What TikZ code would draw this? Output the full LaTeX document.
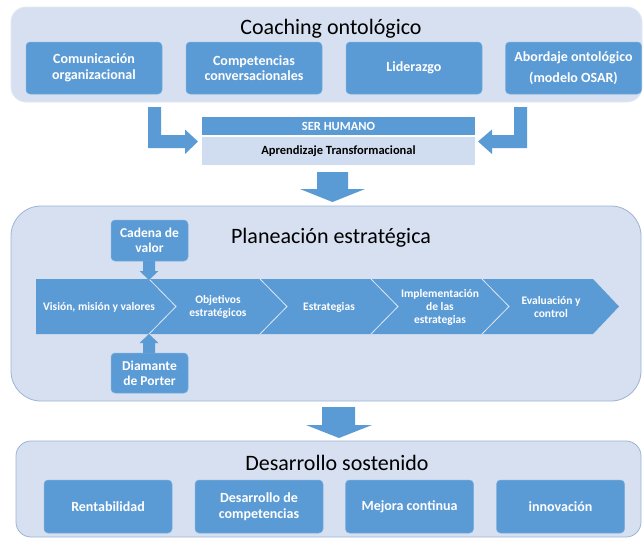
\documentclass[tikz,border=0pt]{standalone}
\usepackage{fontspec}
\setmainfont{Carlito}
\definecolor{boxblue}{HTML}{5B9BD5}
\definecolor{panelfill}{HTML}{D6E0F0}
\definecolor{panelline}{HTML}{9DB4D6}
\definecolor{lightbox}{HTML}{D0DCEF}
\definecolor{sepline}{HTML}{DCE6F4}
\begin{document}
\begin{tikzpicture}[x=1pt,y=-1pt,
  panel/.style={fill=panelfill, draw=panelline, line width=0.8pt, inner sep=0pt},
  bluebox/.style={fill=boxblue, draw=boxblue!80!white, line width=0.5pt, rounded corners=4pt, text=white,
    font=\fontsize{14}{15.5}\selectfont\bfseries, align=center, inner sep=2pt},
  paneltitle/.style={font=\fontsize{22}{24}\selectfont, text=black, inner sep=0pt},
  chevtext/.style={text=white, font=\fontsize{11.5}{13}\selectfont\bfseries, align=center, inner sep=0pt},
  blockarrow/.style={fill=boxblue, draw=none},
  sepstyle/.style={draw=sepline, line width=0.8pt},
]
\useasboundingbox (0,0) rectangle (643,539);
\fill[white] (0,0) rectangle (643,539);

% ---------- Coaching ontologico ----------
\node[panel, draw=panelfill!70!white, rounded corners=15pt, minimum width=631pt, minimum height=95pt] (coach) at (326.5,54.5) {};
\node[paneltitle] (coachT) at (331,29) {Coaching ontológico};
\node[bluebox, minimum width=136pt, minimum height=52pt] (b1) at (94,68) {Comunicación\\organizacional};
\node[bluebox, minimum width=136pt, minimum height=52pt] (b2) at (254,68) {Competencias\\conversacionales};
\node[bluebox, minimum width=136pt, minimum height=52pt] (b3) at (414,68) {Liderazgo};
\node[bluebox, minimum width=136pt, minimum height=52pt] (b4) at (573.5,68) {Abordaje ontológico\\[5pt](modelo OSAR)};

% ---------- Ser humano ----------
\node[fill=boxblue, minimum width=273pt, minimum height=18pt, inner sep=0pt, text=white,
  font=\fontsize{12.5}{14}\selectfont\bfseries] (ser) at (338.5,126) {SER HUMANO};
\node[fill=lightbox, minimum width=273pt, minimum height=28pt, inner sep=0pt, text=black,
  font=\fontsize{12.5}{14}\selectfont\bfseries] (apr) at (338.5,151) {Aprendizaje Transformacional};

% bent arrows
\path[blockarrow] (148,107) -- (161,107) -- (161,135) -- (185,135) -- (185,129.5) -- (198,141.5)
  -- (185,154) -- (185,148) -- (148,148) -- cycle;
\path[blockarrow] (527,107) -- (514,107) -- (514,135) -- (492,135) -- (492,129.5) -- (478,141.5)
  -- (492,154) -- (492,148) -- (527,148) -- cycle;

% down arrow 1
\path[blockarrow] (317,172) -- (348,172) -- (348,189) -- (365,189) -- (332.5,202) -- (300,189) -- (317,189) -- cycle;

% ---------- Planeacion estrategica ----------
\node[panel, rounded corners=30pt, minimum width=630pt, minimum height=195pt] (plan) at (326,303.5) {};
\node[paneltitle] (planT) at (331,238) {Planeación estratégica};

\path[fill=boxblue] (36,279) -- (593,279) -- (619,306.5) -- (593,334) -- (36,334) -- cycle;
\foreach \s in {149,260,371,482} {
  \draw[sepstyle] (\s,279) -- (\s+27,306.5) -- (\s,334);
}
\node[chevtext] (c1) at (99,307) {Visión, misión y valores};
\node[chevtext] (c2) at (218,307) {Objetivos\\estratégicos};
\node[chevtext] (c3) at (329,307) {Estrategias};
\node[chevtext] (c4) at (440,307) {Implementación\\de las\\estrategias};
\node[chevtext] (c5) at (551,307) {Evaluación y\\control};

\node[bluebox, font=\fontsize{13.5}{15}\selectfont\bfseries, minimum width=77pt, minimum height=41pt] (cad) at (149.5,240.5) {Cadena de\\valor};
\node[bluebox, font=\fontsize{13.5}{15}\selectfont\bfseries, minimum width=77pt, minimum height=40pt] (dia) at (149.5,373) {Diamante\\de Porter};

\path[blockarrow] (143,261) -- (155,261) -- (155,271) -- (158.5,271) -- (149,280) -- (139.5,271) -- (143,271) -- cycle;
\path[blockarrow] (143,353) -- (155,353) -- (155,343) -- (158.5,343) -- (149,334) -- (139.5,343) -- (143,343) -- cycle;

% down arrow 2
\path[blockarrow] (322,407) -- (355,407) -- (355,425) -- (372,425) -- (339,438) -- (306,425) -- (322,425) -- cycle;

% ---------- Desarrollo sostenido ----------
\node[panel, rounded corners=15pt, minimum width=625pt, minimum height=96pt] (des) at (328.5,489) {};
\node[paneltitle] (desT) at (337,463) {Desarrollo sostenido};
\node[bluebox, minimum width=128pt, minimum height=53pt] (d1) at (108,506.5) {Rentabilidad};
\node[bluebox, minimum width=128pt, minimum height=53pt] (d2) at (259,506.5) {Desarrollo de\\competencias};
\node[bluebox, minimum width=128pt, minimum height=53pt] (d3) at (409.5,506.5) {Mejora continua};
\node[bluebox, minimum width=128pt, minimum height=53pt] (d4) at (560.5,506.5) {innovación};
\end{tikzpicture}
\end{document}
